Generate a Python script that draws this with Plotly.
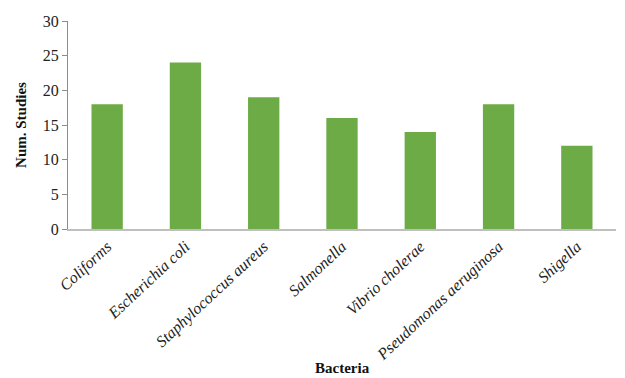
import plotly.graph_objects as go

categories = ["Coliforms", "Escherichia coli", "Staphylococcus aureus", "Salmonella",
              "Vibrio cholerae", "Pseudomonas aeruginosa", "Shigella"]
num_studies = [18, 24, 19, 16, 14, 18, 12]
y_ticks = [0, 5, 10, 15, 20, 25, 30]

fig = go.Figure()
fig.add_trace(go.Bar(
    x=categories, y=num_studies,
    marker=dict(color="#6cab45", line=dict(width=0)),
    width=0.4,
))

serif = "Times New Roman, Liberation Serif, serif"
fig.update_layout(
    width=625, height=378,
    margin=dict(l=68, r=9, t=21, b=149),
    paper_bgcolor="white", plot_bgcolor="white",
    showlegend=False,
    font=dict(family=serif, color="#222222", size=14),
    xaxis=dict(
        tickangle=-43, automargin=False,
        tickfont=dict(family=serif, size=16, style="italic", color="#222222"),
        showline=True, linecolor="#bfbfbf", linewidth=2,
        ticks="", showgrid=False,
    ),
    yaxis=dict(
        range=[0, 30], tickvals=y_ticks, automargin=False,
        tickfont=dict(family=serif, size=16, color="#222222"),
        showline=True, linecolor="#8c8c8c", linewidth=1,
        ticks="outside", ticklen=5, tickcolor="#8c8c8c",
        showgrid=False, zeroline=False,
        title=dict(text="<b>Num. Studies</b>", font=dict(family=serif, size=15, color="#111111"), standoff=12),
    ),
    annotations=[dict(
        text="<b>Bacteria</b>", xref="paper", yref="paper", x=0.5, y=-0.67,
        xanchor="center", yanchor="middle", showarrow=False,
        font=dict(family=serif, size=15, color="#111111"),
    )],
)

fig.write_html("out.html")
